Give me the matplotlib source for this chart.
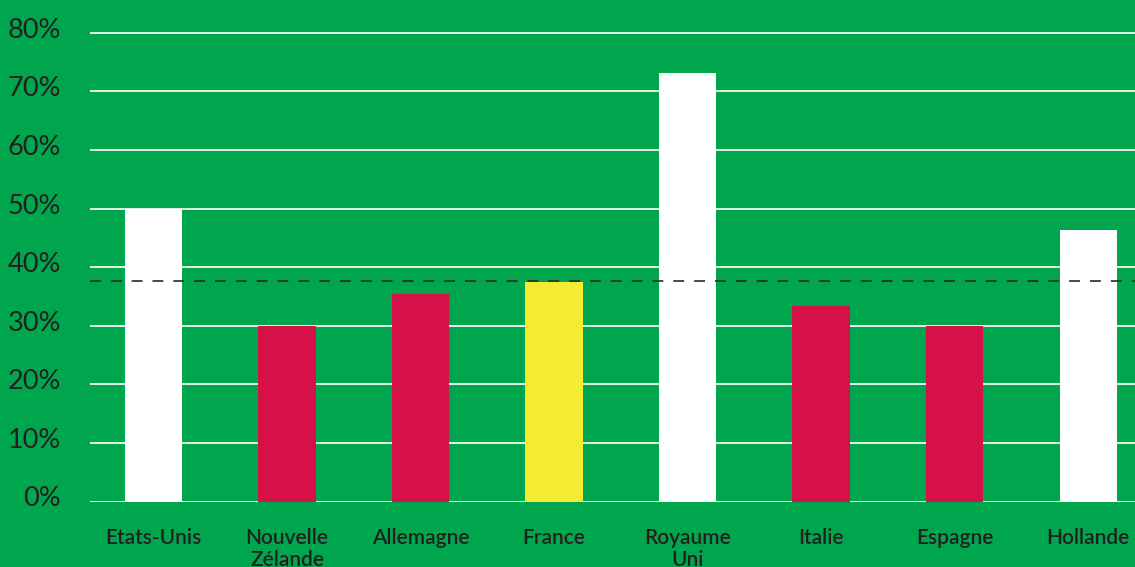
import numpy as np
import matplotlib.pyplot as plt
import matplotlib.transforms as mtransforms

# data
pays = ["Etats-Unis", "Nouvelle\nZélande", "Allemagne", "France",
        "Royaume\nUni", "Italie", "Espagne", "Hollande"]
valeurs = [50, 30, 35.4, 37.4, 73.1, 33.4, 30, 46.3]
moyenne = 37.7
graduations = [0, 10, 20, 30, 40, 50, 60, 70, 80]

vert = "#00A64D"
rouge = "#D51148"
jaune = "#F3EC32"
blanc = "#FFFFFF"
texte = "#231F20"
couleurs = [blanc, rouge, rouge, jaune, blanc, rouge, rouge, blanc]

plt.rcParams['font.family'] = ['Lato', 'DejaVu Sans']

fig = plt.figure(figsize=(11.35, 5.67), dpi=100)
fig.patch.set_facecolor(vert)
ax = fig.add_axes([90/1135, 1 - 501.5/567, 1 - 90/1135, 501.5/567])
ax.set_facecolor(vert)

x = np.arange(len(pays))
ax.bar(x, valeurs, width=0.43, color=couleurs, zorder=2)
ax.axhline(moyenne, color="#2a2a2a", lw=1.2, dashes=(6.5, 6), zorder=3)

ax.set_xlim(-0.476, 7.35)
ax.set_ylim(0, 85.6)
ax.set_yticks(graduations)
ax.set_yticklabels([str(g) + "%" for g in graduations])
ax.set_xticks(x)
ax.set_xticklabels(pays, fontweight="semibold", linespacing=1.15)

ax.grid(axis="y", color="#e6f4ea", lw=1.4, zorder=1)
ax.tick_params(axis="y", length=0, pad=21, labelsize=19.5, labelcolor=texte)
ax.tick_params(axis="x", length=0, pad=19, labelsize=15, labelcolor=texte)
for s in ax.spines.values():
    s.set_visible(False)

# the % labels sit a little above their grid line
decalage = mtransforms.ScaledTranslation(0, 5/100, fig.dpi_scale_trans)
for lab in ax.get_yticklabels():
    lab.set_transform(lab.get_transform() + decalage)

fig.savefig("out.png", dpi=100, facecolor=vert)
